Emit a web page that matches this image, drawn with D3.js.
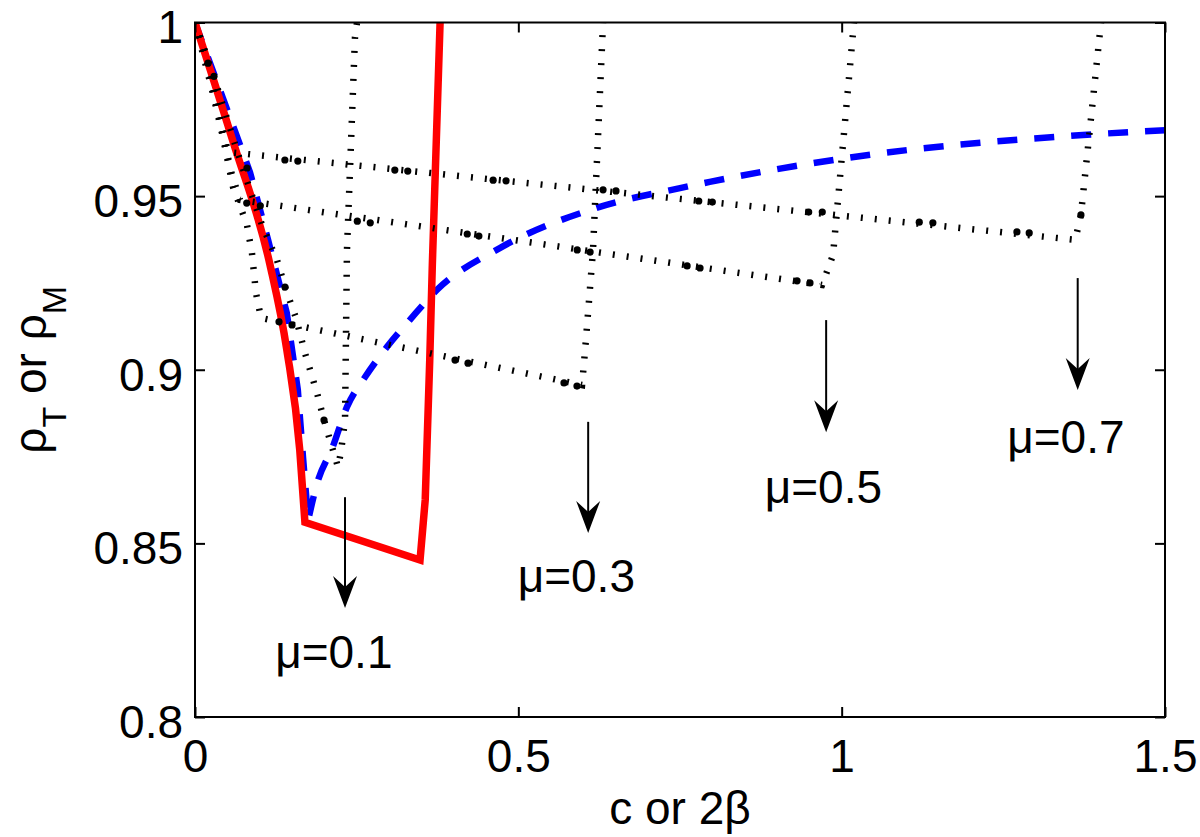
<!DOCTYPE html>
<html>
<head>
<meta charset="utf-8">
<script src="https://cdn.jsdelivr.net/npm/d3@7"></script>
<style>
  body { margin: 0; background: #fff; }
  text { font-family: "Liberation Sans", Arial, Helvetica, sans-serif; }
</style>
</head>
<body>
<svg id="chart" width="1200" height="837"></svg>
<script>
// axis ticks
const xTicks = [0, 0.5, 1, 1.5];
const yTicks = [0.8, 0.85, 0.9, 0.95, 1];

// red solid curve (rho_T)
const redC   = [0, 0.059, 0.116, 0.142, 0.162, 0.170, 0.348, 0.356, 0.363, 0.367, 0.379];
const redRho = [1, 0.9656, 0.9302, 0.9057, 0.8769, 0.8561, 0.8452, 0.8625, 0.9028, 0.9302, 1.0];

// blue dashed curve (rho_M)
const blueC   = [0, 0.043, 0.085, 0.113, 0.142, 0.159, 0.167, 0.175, 0.189, 0.213, 0.235, 0.263, 0.297, 0.332, 0.374, 0.472, 0.626, 0.750, 0.796, 1.008, 1.373, 1.5];
const blueRho = [1, 0.9783, 0.9569, 0.9374, 0.9163, 0.8942, 0.8749, 0.8567, 0.8674, 0.8778, 0.8893, 0.8979, 0.9066, 0.9143, 0.9230, 0.9351, 0.9469, 0.9523, 0.9541, 0.9610, 0.9676, 0.9690];

// dotted curves, one per mu
const mu01C   = [0, 0.0356, 0.0696, 0.1036, 0.1268, 0.1392, 0.1562, 0.1701, 0.1887, 0.1995, 0.2211, 0.2257, 0.232, 0.235, 0.2474, 0.2505];
const mu01Rho = [1, 0.9806, 0.9604, 0.9417, 0.9316, 0.9238, 0.9149, 0.9048, 0.8933, 0.8855, 0.8720, 0.8763, 0.8855, 0.9345, 0.9958, 1.0];
const mu03C   = [0, 0.0263, 0.0418, 0.0588, 0.0804, 0.0881, 0.0943, 0.1021, 0.5985, 0.603, 0.6155, 0.631];
const mu03Rho = [1, 0.9806, 0.9682, 0.9526, 0.9417, 0.9336, 0.9221, 0.9149, 0.8956, 0.9051, 0.9345, 1.0];
const mu05C   = [0, 0.0155, 0.0418, 0.0572, 0.0696, 0.9696, 0.9866, 1.019];
const mu05Rho = [1, 0.9915, 0.9685, 0.9561, 0.9489, 0.9244, 0.9330, 1.0];
const mu07C   = [0, 0.0077, 0.0201, 0.034, 0.051, 1.3612, 1.370, 1.401];
const mu07Rho = [1, 0.9958, 0.9883, 0.9762, 0.9627, 0.9374, 0.9446, 1.0];

// round dots seen on the dotted curves
const mu01DotC   = [0.0804, 0.1392, 0.1995];
const mu01DotRho = [0.9581, 0.9238, 0.8855];
const mu03DotC   = [0.1299, 0.15, 0.4021, 0.4222, 0.5706, 0.5907];
const mu03DotRho = [0.9138, 0.9129, 0.9028, 0.9019, 0.8962, 0.8953];
const mu05DotC   = [0.080, 0.101, 0.251, 0.271, 0.421, 0.439, 0.591, 0.611, 0.761, 0.781, 0.931, 0.951];
const mu05DotRho = [0.9480, 0.9472, 0.9428, 0.9423, 0.9391, 0.9385, 0.9345, 0.9339, 0.9299, 0.9293, 0.9256, 0.9250];
const mu07DotC   = [0.0201, 0.0294, 0.139, 0.159, 0.309, 0.329, 0.461, 0.481, 0.631, 0.651, 0.779, 0.800, 0.949, 0.970, 1.120, 1.141, 1.271, 1.290, 1.370];
const mu07DotRho = [0.9883, 0.9845, 0.9604, 0.9601, 0.9575, 0.9572, 0.9546, 0.9544, 0.9518, 0.9515, 0.9486, 0.9483, 0.9454, 0.9454, 0.9425, 0.9423, 0.9397, 0.9394, 0.9446];

// annotations
const labelText = ['μ=0.1', 'μ=0.3', 'μ=0.5', 'μ=0.7'];
const labelC    = [0.124, 0.499, 0.881, 1.256];
const labelRho  = [0.8141, 0.836, 0.8616, 0.876];
const arrowC    = [0.232, 0.608, 0.976, 1.365];
const arrowTop  = [0.8633, 0.885, 0.9143, 0.9264];
const arrowTip  = [0.8314, 0.853, 0.882, 0.8942];

const zip = (a, b) => a.map((d, i) => [d, b[i]]);

const svg = d3.select('#chart');
const margin = { top: 22.5, right: 35, bottom: 120, left: 195 };
const width = 1200 - margin.left - margin.right;
const height = 837 - margin.top - margin.bottom;

const g = svg.append('g').attr('transform', `translate(${margin.left},${margin.top})`);

const x = d3.scaleLinear().domain([0, 1.5]).range([0, width]);
const y = d3.scaleLinear().domain([0.8, 1]).range([height, 0]);

g.append('clipPath').attr('id', 'plot-clip')
  .append('rect').attr('width', width).attr('height', height);

const plot = g.append('g').attr('clip-path', 'url(#plot-clip)');

const line = d3.line().x(d => x(d[0])).y(d => y(d[1]));
const smooth = d3.line().x(d => x(d[0])).y(d => y(d[1])).curve(d3.curveMonotoneX);

// blue: straight-ish left branch, smooth right branch, one path so dashes run on
const blue = zip(blueC, blueRho);
const blueD = line(blue.slice(0, 8)) + smooth(blue.slice(7)).replace(/^M/, 'L');
plot.append('path')
  .attr('d', blueD)
  .attr('fill', 'none')
  .attr('stroke', '#0000ff')
  .attr('stroke-width', 6.5)
  .attr('stroke-dasharray', '20 17');

// red: smooth descent, then straight segments
const red = zip(redC, redRho);
const redD = smooth(red.slice(0, 6)) + line(red.slice(5)).replace(/^M/, 'L');
plot.append('path')
  .attr('d', redD)
  .attr('fill', 'none')
  .attr('stroke', '#ff0000')
  .attr('stroke-width', 7.5)
  .attr('stroke-linejoin', 'miter');

// dotted black curves
const muCurves = [zip(mu01C, mu01Rho), zip(mu03C, mu03Rho), zip(mu05C, mu05Rho), zip(mu07C, mu07Rho)];
const muDots = [zip(mu01DotC, mu01DotRho), zip(mu03DotC, mu03DotRho), zip(mu05DotC, mu05DotRho), zip(mu07DotC, mu07DotRho)];

plot.selectAll('.mu-line')
  .data(muCurves)
  .enter()
  .append('path')
  .attr('class', 'mu-line')
  .attr('d', line)
  .attr('fill', 'none')
  .attr('stroke', '#000')
  .attr('stroke-width', 6.5)
  .attr('stroke-dasharray', '2 12');

plot.selectAll('.mu-dot')
  .data(muDots.flat())
  .enter()
  .append('circle')
  .attr('class', 'mu-dot')
  .attr('cx', d => x(d[0]))
  .attr('cy', d => y(d[1]))
  .attr('r', 3.6)
  .attr('fill', '#000');

// axes (MATLAB style: ticks inside, full box)
const fmt = d3.format('~g');

const xAxis = g.append('g')
  .attr('transform', `translate(0,${height})`)
  .call(d3.axisBottom(x).tickValues(xTicks).tickSize(-10).tickSizeOuter(0).tickPadding(22).tickFormat(fmt));
const yAxis = g.append('g')
  .call(d3.axisLeft(y).tickValues(yTicks).tickSize(-10).tickSizeOuter(0).tickPadding(12).tickFormat(fmt));
const xTop = g.append('g')
  .call(d3.axisTop(x).tickValues(xTicks).tickSize(-10).tickSizeOuter(0).tickFormat(''));
const yRight = g.append('g')
  .attr('transform', `translate(${width},0)`)
  .call(d3.axisRight(y).tickValues(yTicks).tickSize(-10).tickSizeOuter(0).tickFormat(''));

[xAxis, yAxis, xTop, yRight].forEach(a => {
  a.select('.domain').remove();
  a.selectAll('line').attr('stroke', '#000').attr('stroke-width', 2);
  a.selectAll('text')
    .attr('font-size', 46)
    .attr('font-family', '"Liberation Sans", Arial, sans-serif')
    .attr('fill', '#000');
});
// y labels sit a little below their ticks
yAxis.selectAll('text').attr('dy', '0.44em');

g.append('rect')
  .attr('width', width)
  .attr('height', height)
  .attr('fill', 'none')
  .attr('stroke', '#000')
  .attr('stroke-width', 2);

// arrows and mu labels
const ann = g.selectAll('.ann')
  .data(labelText.map((t, i) => ({ t, lc: labelC[i], lr: labelRho[i], ac: arrowC[i], at: arrowTop[i], ab: arrowTip[i] })))
  .enter()
  .append('g')
  .attr('class', 'ann');

ann.append('line')
  .attr('x1', d => x(d.ac))
  .attr('x2', d => x(d.ac))
  .attr('y1', d => y(d.at))
  .attr('y2', d => y(d.ab) - 20)
  .attr('stroke', '#000')
  .attr('stroke-width', 2);

ann.append('path')
  .attr('d', d => {
    const cx = x(d.ac), ty = y(d.ab);
    return `M${cx},${ty} L${cx - 12},${ty - 32} L${cx},${ty - 21} L${cx + 12},${ty - 32} Z`;
  })
  .attr('fill', '#000');

ann.append('text')
  .attr('x', d => x(d.lc))
  .attr('y', d => y(d.lr))
  .attr('font-size', 46)
  .attr('fill', '#000')
  .text(d => d.t);

// axis titles
g.append('text')
  .attr('x', width / 2)
  .attr('y', height + 107)
  .attr('text-anchor', 'middle')
  .attr('font-size', 46)
  .text('c or 2β');

const yTitle = svg.append('text')
  .attr('transform', `translate(46,${margin.top + height / 2}) rotate(-90)`)
  .attr('text-anchor', 'middle')
  .attr('font-size', 46);
yTitle.append('tspan').text('ρ');
yTitle.append('tspan').attr('font-size', 34).attr('dy', 20).text('T');
yTitle.append('tspan').attr('dy', -20).text(' or ρ');
yTitle.append('tspan').attr('font-size', 34).attr('dy', 20).text('M');
</script>
</body>
</html>
